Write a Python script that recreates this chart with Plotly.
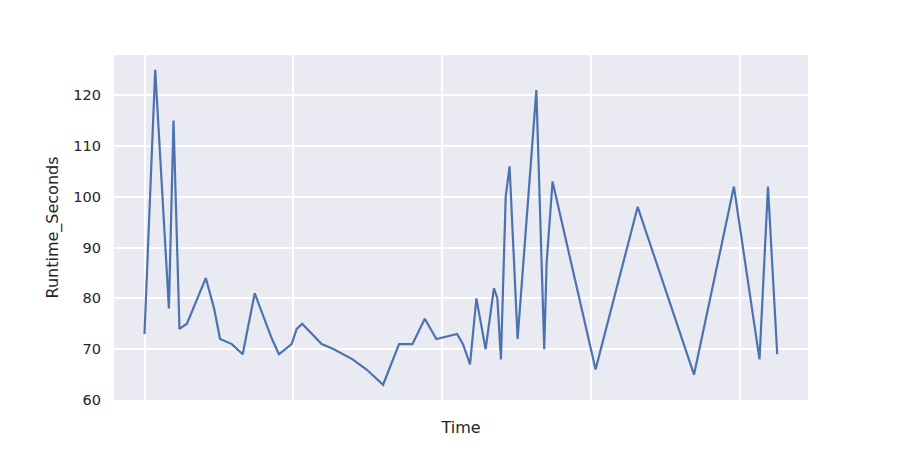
import plotly.graph_objects as go

# time positions (no tick labels shown in the source chart) and runtime values
time_vals = [0.0, 0.072, 0.164, 0.195, 0.235, 0.285, 0.412, 0.468, 0.508, 0.587,
             0.660, 0.741, 0.857, 0.904, 0.989, 1.023, 1.060, 1.191, 1.273, 1.399,
             1.493, 1.604, 1.711, 1.801, 1.884, 1.962, 2.101, 2.141, 2.188, 2.231,
             2.293, 2.349, 2.372, 2.396, 2.428, 2.454, 2.508, 2.634, 2.687, 2.703,
             2.743, 3.032, 3.315, 3.694, 3.962, 4.134, 4.191, 4.253]
runtime_seconds = [73, 125, 78, 115, 74, 75, 84, 78, 72, 71,
                   69, 81, 72, 69, 71, 74, 75, 71, 70, 68,
                   66, 63, 71, 71, 76, 72, 73, 71, 67, 80,
                   70, 82, 80, 68, 100, 106, 72, 121, 70, 87,
                   103, 66, 98, 65, 102, 68, 102, 69]

y_ticks = [60, 70, 80, 90, 100, 110, 120]

fig = go.Figure()
fig.add_trace(go.Scatter(x=time_vals, y=runtime_seconds, mode="lines",
                         line=dict(color="#4C72B0", width=2.2), showlegend=False))

# page body adds an 8px offset, so margins are shifted to compensate
fig.update_layout(
    width=900, height=450,
    margin=dict(l=106, r=100, t=47, b=58),
    paper_bgcolor="white", plot_bgcolor="#EAEAF2",
    font=dict(family="DejaVu Sans", size=14, color="#262626"),
)
fig.update_xaxes(range=[-0.205, 4.46], tickvals=[0, 1, 2, 3, 4], showticklabels=False,
                 gridcolor="white", gridwidth=1.5, zeroline=False, showline=False,
                 title=dict(text="Time", font=dict(size=16), standoff=21))
fig.update_yaxes(range=[60, 127.9], tickvals=y_ticks, gridcolor="white", gridwidth=1.5,
                 zeroline=False, showline=False, ticklabelstandoff=12,
                 tickfont=dict(size=14.5),
                 title=dict(text="Runtime_Seconds", font=dict(size=16), standoff=10))

fig.write_html("out.html")
